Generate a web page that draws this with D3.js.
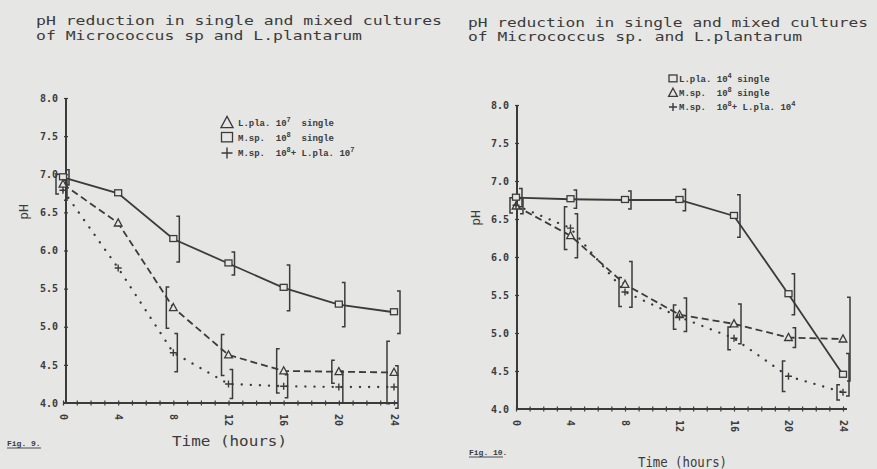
<!DOCTYPE html>
<html>
<head>
<meta charset="utf-8">
<script src="https://cdn.jsdelivr.net/npm/d3@7"></script>
<style>
  html, body { margin: 0; padding: 0; background: #e6e6e4; }
  svg { display: block; }
</style>
</head>
<body>
<svg id="chart" width="877" height="469"></svg>
<script>
// ---------------- DATA ----------------
const hours = [0, 4, 8, 12, 16, 20, 24];
const xTickLabels = ["0", "4", "8", "12", "16", "20", "24"];
const yTickValues = [4.0, 4.5, 5.0, 5.5, 6.0, 6.5, 7.0, 7.5, 8.0];

// Fig. 9 (left)
const leftSquare      = [6.96, 6.75, 6.15, 5.83, 5.51, 5.29, 5.19];
const leftSquareErr   = [0.10, 0.00, 0.30, 0.15, 0.30, 0.29, 0.28];
const leftTriangle    = [6.87, 6.36, 5.25, 4.63, 4.42, 4.41, 4.40];
const leftTriangleErr = [0.13, 0.00, 0.27, 0.27, 0.29, 0.15, 0.41];
const leftPlus        = [6.79, 5.77, 4.66, 4.25, 4.22, 4.21, 4.21];
const leftPlusErr     = [0.13, 0.00, 0.25, 0.19, 0.15, 0.21, 0.28];

// Fig. 10 (right)
const rightSquare      = [6.78, 6.76, 6.75, 6.75, 6.54, 5.51, 4.45];
const rightSquareErr   = [0.12, 0.12, 0.12, 0.14, 0.28, 0.27, 0.28];
const rightTriangle    = [6.67, 6.28, 5.64, 5.24, 5.12, 4.94, 4.92];
const rightTriangleErr = [0.10, 0.29, 0.30, 0.22, 0.26, 0.13, 0.55];
const rightPlus        = [6.68, 6.38, 5.54, 5.21, 4.93, 4.43, 4.22];
const rightPlusErr     = [0.10, 0.28, 0.19, 0.16, 0.15, 0.20, 0.10];

const leftTitle  = ["pH reduction in single and mixed cultures", "of Micrococcus sp and L.plantarum"];
const rightTitle = ["pH reduction in single and mixed cultures", "of Micrococcus sp. and L.plantarum"];
const leftLegend  = [
  {sym: "triangle", parts: ["L.pla. 10", "7", "  single"]},
  {sym: "square",   parts: ["M.sp.  10", "8", "  single"]},
  {sym: "plus",     parts: ["M.sp.  10", "8", "+ L.pla. 10", "7"]}
];
const rightLegend = [
  {sym: "square",   parts: ["L.pla. 10", "4", " single"]},
  {sym: "triangle", parts: ["M.sp.  10", "8", " single"]},
  {sym: "plus",     parts: ["M.sp.  10", "8", "+ L.pla. 10", "4"]}
];

// ---------------- DRAWING ----------------
const INK = "#3b3b3b";
const BG = "#e6e6e4";
const svg = d3.select("#chart");
svg.append("rect").attr("width", 877).attr("height", 469).attr("fill", BG);

function marker(g, type, cx, cy, s) {
  if (type === "square") {
    g.append("rect").attr("x", cx - s/2).attr("y", cy - s/2).attr("width", s).attr("height", s*0.85)
      .attr("fill", BG).attr("stroke", INK).attr("stroke-width", 1.3);
  } else if (type === "triangle") {
    g.append("path").attr("d", `M${cx},${cy - s*0.6}L${cx + s*0.55},${cy + s*0.42}L${cx - s*0.55},${cy + s*0.42}Z`)
      .attr("fill", BG).attr("stroke", INK).attr("stroke-width", 1.3);
  } else {
    g.append("path").attr("d", `M${cx - s/2},${cy}H${cx + s/2}M${cx},${cy - s/2}V${cy + s/2}`)
      .attr("fill", "none").attr("stroke", INK).attr("stroke-width", 1.4);
  }
}

function drawPanel(p) {
  const g = svg.append("g");
  const x = d3.scaleLinear().domain([0, 24]).range(p.xRange);
  const y = d3.scaleLinear().domain([4, 8]).range(p.yRange);

  // titles
  p.title.forEach((t, i) => {
    g.append("text").attr("x", p.titleX).attr("y", p.titleY[i]).text(t)
      .attr("font-family", "DejaVu Sans Mono, monospace").attr("font-size", 12)
      .attr("fill", INK).attr("textLength", p.titleLen[i]).attr("lengthAdjust", "spacingAndGlyphs");
  });

  // axes
  const xAxis = d3.axisBottom(x).tickValues(d3.range(0, 25, 1)).tickSize(5).tickFormat("");
  const gx = g.append("g").attr("transform", `translate(0,${y(4)})`).call(xAxis);
  gx.select(".domain").attr("d", `M${x(0)},0H${x(24) + 4}`).attr("stroke", INK).attr("stroke-width", 2.2);
  gx.selectAll(".tick line").attr("y1", -2.5).attr("y2", 2.5).attr("stroke", INK).attr("stroke-width", 1.2);

  gx.selectAll(".lbl").data(hours).enter().append("text")
    .attr("transform", (d, i) => `translate(${x(d)},${11}) rotate(90)`)
    .attr("dy", "0.35em").attr("text-anchor", "start")
    .text((d, i) => xTickLabels[i])
    .attr("font-family", "DejaVu Sans Mono, monospace").attr("font-weight", "bold")
    .attr("font-size", 10).attr("fill", INK);

  const yAxis = d3.axisLeft(y).tickValues(yTickValues).tickSize(0).tickPadding(8)
    .tickFormat(d3.format(".1f"));
  const gy = g.append("g").attr("transform", `translate(${x(0) + p.yAxisShift},0)`).call(yAxis);
  gy.select(".domain").attr("d", `M0,${y(8)}V${y(4)}`).attr("stroke", INK).attr("stroke-width", 2);
  gy.selectAll(".tick line").attr("x1", -2).attr("x2", 2).attr("stroke", INK).attr("stroke-width", 1.2);
  gy.selectAll(".tick text").attr("font-family", "DejaVu Sans Mono, monospace").attr("font-weight", "bold")
    .attr("font-size", 10).attr("fill", INK);
  gy.selectAll(".tick").filter(d => d === 4).select("line").remove();

  // axis titles
  g.append("text").attr("transform", `translate(${p.pHX},${p.pHY}) rotate(-90)`)
    .attr("text-anchor", "middle").attr("dy", "0.35em").text("pH")
    .attr("font-family", "DejaVu Sans Mono, monospace").attr("font-size", 13).attr("fill", INK);
  g.append("text").attr("x", p.timeX).attr("y", p.timeY).text("Time (hours)")
    .attr("font-family", "DejaVu Sans Mono, monospace").attr("font-size", 14).attr("fill", INK)
    .attr("textLength", p.timeLen).attr("lengthAdjust", "spacingAndGlyphs");
  g.append("text").attr("x", p.figX).attr("y", p.figY).text(p.figText)
    .attr("font-family", "Liberation Mono, monospace").attr("font-weight", "bold")
    .attr("font-size", 8).attr("fill", INK);
  g.append("line").attr("x1", p.figX).attr("x2", p.figX + p.figUnder).attr("y1", p.figY + 2).attr("y2", p.figY + 2)
    .attr("stroke", INK).attr("stroke-width", 0.9);

  // series
  p.series.forEach(s => {
    const line = d3.line().x((d, i) => x(hours[i])).y(d => y(d));
    const path = g.append("path").datum(s.values).attr("d", line).attr("fill", "none")
      .attr("stroke", INK);
    if (s.style === "solid") path.attr("stroke-width", 1.8);
    if (s.style === "dashed") path.attr("stroke-width", 1.8).attr("stroke-dasharray", "7,4");
    if (s.style === "dotted") path.attr("stroke-width", 2.3).attr("stroke-dasharray", "0.1,9")
      .attr("stroke-linecap", "round");

    // error bars (bracket style)
    s.values.forEach((v, i) => {
      const e = s.err[i];
      if (!e) return;
      const bx = x(hours[i]) + s.barOff;
      const cap = s.barOff >= 0 ? -3 : 3;
      g.append("path")
        .attr("d", `M${bx + cap},${y(v + e)}H${bx}V${y(v - e)}H${bx + cap}`)
        .attr("fill", "none").attr("stroke", INK).attr("stroke-width", 1.5);
    });
    s.values.forEach((v, i) => marker(g, s.sym, x(hours[i]), y(v), 7));
  });

  // legend
  p.legend.forEach((item, i) => {
    const ly = p.legY + i * p.legStep;
    marker(g, item.sym, p.legSymX, ly, p.legSymSize);
    const t = g.append("text").attr("x", p.legTextX).attr("y", ly + 3)
      .attr("font-family", "Liberation Mono, monospace").attr("font-weight", "bold")
      .attr("font-size", 9).attr("fill", INK).attr("xml:space", "preserve");
    item.parts.forEach((part, k) => {
      const sup = k % 2 === 1;
      t.append("tspan").text(part)
        .attr("font-size", sup ? 7 : 9)
        .attr("dy", sup ? -4 : (k > 0 ? 4 : 0));
    });
  });
}

drawPanel({
  xRange: [63, 394], yRange: [403, 98], yAxisShift: 3,
  title: leftTitle, titleX: 36, titleY: [25, 40], titleLen: [406, 326],
  pHX: 23, pHY: 212, timeX: 172, timeY: 446, timeLen: 115,
  figText: "Fig. 9.", figX: 7, figY: 446, figUnder: 34,
  legend: leftLegend, legY: 123, legStep: 15, legSymX: 227, legSymSize: 11, legTextX: 238,
  series: [
    {values: leftSquare,   err: leftSquareErr,   sym: "square",   style: "solid",  barOff: 6},
    {values: leftTriangle, err: leftTriangleErr, sym: "triangle", style: "dashed", barOff: -7},
    {values: leftPlus,     err: leftPlusErr,     sym: "plus",     style: "dotted", barOff: 4}
  ]
});

drawPanel({
  xRange: [516, 843], yRange: [409, 105], yAxisShift: 1,
  title: rightTitle, titleX: 468, titleY: [27, 41], titleLen: [400, 334],
  pHX: 475, pHY: 218, timeX: 638, timeY: 467, timeLen: 89,
  figText: "Fig. 10.", figX: 469, figY: 455, figUnder: 34,
  legend: rightLegend, legY: 79, legStep: 14, legSymX: 673, legSymSize: 8, legTextX: 679,
  series: [
    {values: rightSquare,   err: rightSquareErr,   sym: "square",   style: "solid",  barOff: 6},
    {values: rightTriangle, err: rightTriangleErr, sym: "triangle", style: "dashed", barOff: 7},
    {values: rightPlus,     err: rightPlusErr,     sym: "plus",     style: "dotted", barOff: -6}
  ]
});
</script>
</body>
</html>
